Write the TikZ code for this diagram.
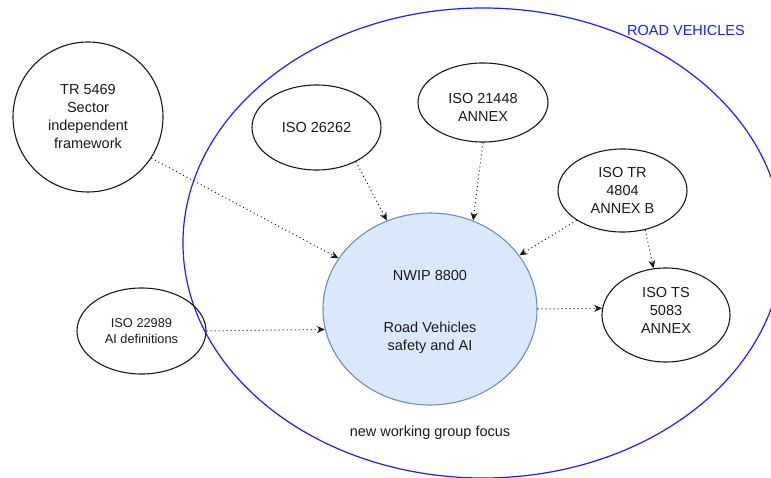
\documentclass[tikz,border=0pt]{standalone}
\usepackage{fontspec}
\setmainfont{Liberation Sans}
\usetikzlibrary{shapes.geometric,arrows.meta}
\definecolor{roadblue}{RGB}{30,30,255}
\definecolor{focusfill}{HTML}{DAE8FC}
\definecolor{focusline}{HTML}{6C8EBF}
\definecolor{inkgray}{HTML}{1A1A1A}

\begin{document}
\begin{tikzpicture}[x=1pt,y=-1pt,
  every node/.style={font=\fontsize{14.5}{18}\selectfont, text=inkgray},
  stdbox/.style={ellipse, draw=inkgray, line width=1.1pt, inner sep=0pt, align=center},
  link/.style={draw=inkgray, line width=1pt, dash pattern=on 1pt off 3pt,
    -{Stealth[length=8pt,width=7pt,inset=2.5pt]}},
]
\useasboundingbox (0,0) rectangle (771,478);
\clip (0,0) rectangle (771,478);

% scope region
\node[ellipse, draw=roadblue, line width=1.2pt, inner sep=0pt,
      minimum width=600pt, minimum height=470pt] (roadveh) at (483,243) {};
\node[text=roadblue] (roadlabel) at (686,31) {ROAD VEHICLES};

% central work item
\node[ellipse, draw=focusline, fill=focusfill, line width=1.1pt, inner sep=0pt, align=center,
      minimum width=214pt, minimum height=192pt, text height=86.4pt] (nwip) at (430,309)
      {NWIP 8800\\[34pt]Road Vehicles\\safety and AI};

% related documents
\node[stdbox, minimum width=150pt, minimum height=150pt] (tr5469) at (88,117)
      {TR 5469\\Sector\\independent\\framework};
\node[stdbox, minimum width=129pt, minimum height=85pt] (iso26262) at (316.5,127.5)
      {ISO 26262};
\node[stdbox, minimum width=130pt, minimum height=79pt, text height=37.4pt] (iso21448) at (483,102.5)
      {ISO 21448\\ANNEX};
\node[stdbox, minimum width=129pt, minimum height=83pt] (isotr4804) at (622.5,190.5)
      {ISO TR\\4804\\ANNEX B};
\node[stdbox, minimum width=128pt, minimum height=94pt, text depth=10pt] (isots5083) at (666,315)
      {ISO TS\\5083\\ANNEX};
\node[stdbox, minimum width=129pt, minimum height=86pt, font=\fontsize{12.8}{16}\selectfont] (iso22989) at (141.5,331)
      {ISO 22989\\AI definitions};

\node (focuslabel) at (430,433) {new working group focus};

% relations
\draw[link] (tr5469.-33.9) -- (nwip.151.8);
\draw[link] (iso26262.-41.2) -- (nwip.116.8);
\draw[link] (iso21448.-90) -- (nwip.64.4);
\draw[link] (isotr4804.-147.2) -- (nwip.31.5);
\draw[link] (isotr4804.-60) -- (isots5083.105.5);
\draw[link] (nwip.east) -- (isots5083.174.6);
\draw[link] (iso22989.east) -- (nwip.191.6);
\end{tikzpicture}
\end{document}
